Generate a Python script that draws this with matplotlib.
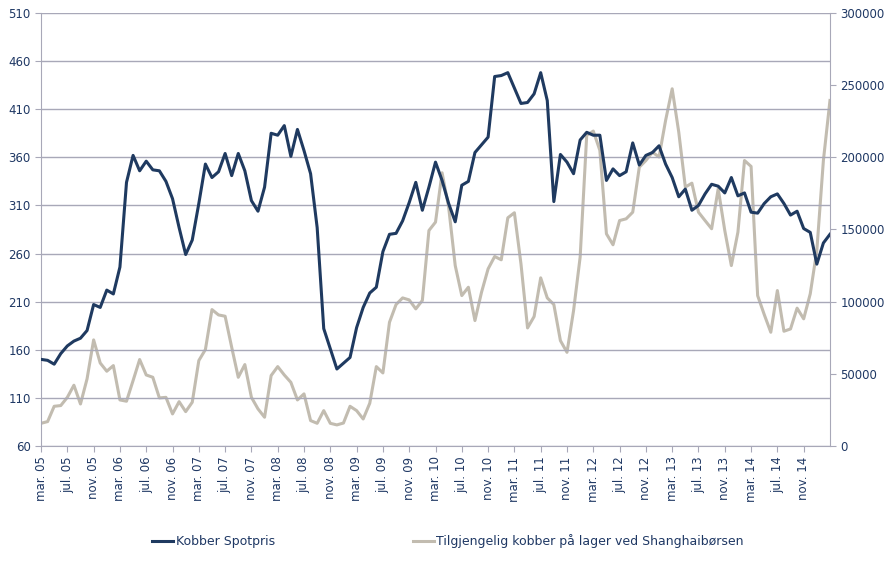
import matplotlib.pyplot as plt

# månedlige data, mar. 05 - mar. 15
months = ["jan.", "feb.", "mar.", "apr.", "mai.", "jun.", "jul.", "aug.",
          "sep.", "okt.", "nov.", "des."]
labels = []
for i in range(121):
    m = (2 + i) % 12
    y = 5 + (2 + i) // 12
    labels.append("%s %02d" % (months[m], y))

spot = [150, 149, 145, 156, 164, 169, 172, 180, 207, 204, 222, 218,
        246, 334, 362, 346, 356, 347, 346, 335, 317, 287, 259, 274,
        312, 353, 339, 345, 364, 341, 364, 346, 315, 304, 329, 385,
        383, 393, 361, 389, 367, 343, 287, 182, 161, 140, 146, 152,
        183, 204, 219, 225, 262, 280, 281, 294, 313, 334, 305, 329,
        355, 336, 312, 293, 331, 335, 365, 373, 381, 444, 445, 448,
        432, 416, 417, 426, 448, 419, 314, 363, 355, 343, 378, 386,
        383, 383, 336, 348, 341, 345, 375, 352, 362, 365, 372, 353,
        339, 319, 327, 305, 310, 322, 332, 330, 323, 339, 320, 323,
        303, 302, 312, 319, 322, 312, 300, 304, 286, 282, 249, 271,
        280]

lager = [15700, 16900, 27500, 28000, 33700, 42100, 29100, 46500, 73500, 57500,
         51800, 55700, 31900, 31000, 45300, 59900, 49200, 47600, 33300, 33700,
         22200, 30700, 23800, 30300, 59200, 66800, 94500, 90800, 89900, 68400,
         47600, 56400, 33700, 25700, 19900, 48800, 55000, 49200, 44100, 31900,
         36100, 17600, 15700, 24500, 15700, 14600, 15900, 27500, 24500, 18700,
         29600, 55000, 50600, 85700, 98000, 102600, 101200, 95000, 100800, 149300,
         155100, 189300, 165500, 125000, 104200, 110000, 86900, 106500, 122700, 131300,
         129000, 158100, 161600, 126200, 81800, 89700, 116500, 102600, 98000, 73000,
         64900, 93800, 130800, 215200, 218200, 204800, 147000, 139400, 156200, 157400,
         162000, 193200, 197800, 203600, 200200, 225600, 247500, 217500, 179400, 182100,
         162000, 156200, 150500, 178200, 149300, 125000, 148200, 197800, 193700, 104200,
         91100, 78800, 107700, 79500, 81100, 95500, 88100, 105400, 135400, 197800,
         239400]

navy = "#1F3A60"
beige = "#C2BCB0"
tekst = "#1F3864"
grid = "#A8A8B8"

fig = plt.figure(figsize=(8.96, 5.81), dpi=100)
ax = fig.add_axes([0.0458, 0.2324, 0.8805, 0.7452])
ax2 = ax.twinx()

x = list(range(len(spot)))
l1, = ax.plot(x, spot, color=navy, lw=2.2, zorder=3)
l2, = ax2.plot(x, lager, color=beige, lw=2.2, zorder=2)
ax.set_zorder(ax2.get_zorder() + 1)
ax.patch.set_visible(False)

ax.set_xlim(0, 120)
ax.set_ylim(60, 510)
ax2.set_ylim(0, 300000)
ax.set_yticks(range(60, 511, 50))
ax2.set_yticks(range(0, 300001, 50000))
ax.set_xticks(x[:117:4])
ax.set_xticklabels(labels[:117:4], rotation=90, fontsize=8.5, color=tekst)

for a in (ax, ax2):
    for s in a.spines.values():
        s.set_visible(False)
    a.tick_params(axis="y", labelsize=8.5, labelcolor=tekst, color=grid, length=4)
ax.spines["left"].set_visible(True)
ax.spines["left"].set_color(grid)
ax.spines["bottom"].set_visible(True)
ax.spines["bottom"].set_color(grid)
ax2.spines["right"].set_visible(True)
ax2.spines["right"].set_color(grid)
ax.tick_params(axis="x", color=grid, length=4)

ax.yaxis.grid(True, color=grid, lw=1)
ax.set_axisbelow(True)

fig.legend([l1, l2], ["Kobber Spotpris", "Tilgjengelig kobber på lager ved Shanghaibørsen"],
           loc="center", bbox_to_anchor=(0.5, 0.069), ncol=2, frameon=False,
           fontsize=9, columnspacing=11, handlelength=1.7, handletextpad=0.2,
           labelcolor=tekst)

fig.savefig("out.png", dpi=100)
